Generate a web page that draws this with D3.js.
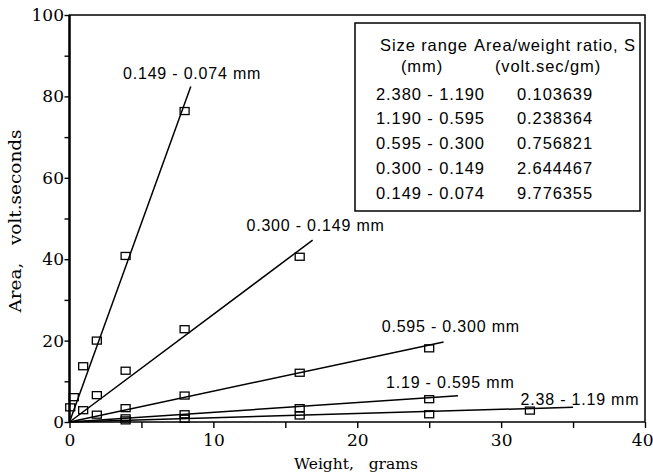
<!DOCTYPE html>
<html>
<head>
<meta charset="utf-8">
<script src="https://cdn.jsdelivr.net/npm/d3@7"></script>
<style>
  body { margin: 0; background: #fff; }
  svg { display: block; }
</style>
</head>
<body>
<svg id="chart" width="653" height="475"></svg>
<script>
// weights (g) and areas (volt.sec), one pair per size range
const w074 = [0.05, 0.3, 0.95, 1.9, 3.9, 8];
const a074 = [3.6, 6.1, 13.7, 20, 40.8, 76.4];
const w149 = [0.95, 1.9, 3.9, 8, 16];
const a149 = [2.9, 6.6, 12.6, 22.8, 40.6];
const w300 = [1.9, 3.9, 8, 16, 25];
const a300 = [1.8, 3.4, 6.5, 12.1, 18.1];
const w595 = [3.9, 8, 16, 25];
const a595 = [0.9, 1.9, 3.4, 5.6];
const w119 = [3.9, 8, 16, 25, 32];
const a119 = [0.4, 0.8, 1.6, 1.9, 2.8];

const lineLabels = ['0.149 - 0.074 mm', '0.300 - 0.149 mm', '0.595 - 0.300 mm', '1.19 - 0.595 mm', '2.38 - 1.19 mm'];
const fitEnds = [8.43, 16.9, 26, 27, 35];   // weight where each fitted line stops

// table in the corner
const tableSizes = ['2.380 - 1.190', '1.190 - 0.595', '0.595 - 0.300', '0.300 - 0.149', '0.149 - 0.074'];
const tableRatios = ['0.103639', '0.238364', '0.756821', '2.644467', '9.776355'];

const xTicks = [0, 5, 10, 15, 20, 25, 30, 35, 40];
const yTicks = [0, 10, 20, 30, 40, 50, 60, 70, 80, 90, 100];

// label anchors in data units (left end, vertical middle)
const labelAt = [[3.72, 85.7], [12.3, 48.4], [21.7, 23.6], [22.0, 9.7], [31.35, 5.6]];

let weights = [w074, w149, w300, w595, w119];
let areas = [a074, a149, a300, a595, a119];
let slopes = tableRatios.map(Number).reverse();

let series = lineLabels.map((name, i) => ({
  name: name,
  s: slopes[i],
  end: fitEnds[i],
  pts: weights[i].map((w, j) => [w, areas[i][j]])
}));

let serif = "'DejaVu Serif', serif";
let sans = "'Liberation Sans', Arial, sans-serif";

let svg = d3.select('#chart');
svg.append('rect').attr('width', 653).attr('height', 475).attr('fill', '#fff');

let x = d3.scaleLinear().domain([0, 40]).range([69.5, 645]);
let y = d3.scaleLinear().domain([0, 100]).range([422, 15]);

// axes - ticks point outward, labels only every 10 / 20
let xAxis = d3.axisBottom(x).tickValues(xTicks).tickSize(6).tickPadding(6)
  .tickFormat(d => d % 10 == 0 ? d : '');
let yAxis = d3.axisLeft(y).tickValues(yTicks).tickSize(5).tickPadding(0.5)
  .tickFormat(d => d % 20 == 0 ? d : '');

let gx = svg.append('g')
  .attr('transform', 'translate(0,' + y(0) + ')')
  .call(xAxis)
  .attr('font-family', serif).attr('font-size', 17);
gx.select('.domain').remove();
gx.selectAll('line').attr('stroke-width', 1.4);
// last label sits at the right edge of the page, nudge it in
gx.selectAll('text').filter(d => d == 40).attr('text-anchor', 'end').attr('x', 8);

let gy = svg.append('g')
  .attr('transform', 'translate(' + x(0) + ',0)')
  .call(yAxis)
  .attr('font-family', serif).attr('font-size', 17);
gy.select('.domain').remove();
gy.selectAll('line').attr('stroke-width', 1.4);

// frame
svg.append('rect')
  .attr('x', x(0)).attr('y', y(100))
  .attr('width', x(40) - x(0)).attr('height', y(0) - y(100))
  .attr('fill', 'none').attr('stroke', '#000').attr('stroke-width', 1.5);
svg.append('line')
  .attr('x1', x(0)).attr('x2', x(0)).attr('y1', y(0)).attr('y2', y(100))
  .attr('stroke', '#000').attr('stroke-width', 2.4);

// fitted lines through the origin, area = S * weight
svg.selectAll('.fit')
  .data(series)
  .enter()
  .append('line')
  .attr('class', 'fit')
  .attr('x1', x(0)).attr('y1', y(0))
  .attr('x2', d => x(d.end))
  .attr('y2', d => y(d.s * d.end))
  .attr('stroke', '#000')
  .attr('stroke-width', 1.5);

// square markers
let groups = svg.selectAll('.series')
  .data(series)
  .enter()
  .append('g')
  .attr('class', 'series');
groups.selectAll('rect')
  .data(d => d.pts)
  .enter()
  .append('rect')
  .attr('x', d => x(d[0]) - 4.5)
  .attr('y', d => y(d[1]) - 3.5)
  .attr('width', 9)
  .attr('height', 7)
  .attr('fill', 'none')
  .attr('stroke', '#000')
  .attr('stroke-width', 1.3);

// line labels
svg.selectAll('.lbl')
  .data(series)
  .enter()
  .append('text')
  .attr('class', 'lbl')
  .attr('x', (d, i) => x(labelAt[i][0]))
  .attr('y', (d, i) => y(labelAt[i][1]))
  .attr('dy', '0.35em')
  .attr('font-family', sans)
  .attr('font-size', 16)
  .attr('letter-spacing', 0.8)
  .text(d => d.name);

// axis titles
svg.append('text')
  .attr('x', 356).attr('y', 469)
  .attr('text-anchor', 'middle')
  .attr('font-family', serif).attr('font-size', 15.5)
  .style('white-space', 'pre')
  .text('Weight,   grams');
svg.append('text')
  .attr('transform', 'translate(21,221) rotate(-90)')
  .attr('text-anchor', 'middle')
  .attr('font-family', serif).attr('font-size', 16)
  .attr('textLength', 183).attr('lengthAdjust', 'spacingAndGlyphs')
  .style('white-space', 'pre')
  .text('Area,   volt.seconds');

// table box
let tb = svg.append('g').attr('font-family', sans).attr('font-size', 16.5).attr('letter-spacing', 0.9);
tb.append('rect')
  .attr('x', 355).attr('y', 23).attr('width', 285).attr('height', 188)
  .attr('fill', '#fff').attr('stroke', '#000').attr('stroke-width', 1.5);
tb.append('text').attr('x', 424).attr('y', 45).attr('dy', '0.35em').attr('text-anchor', 'middle').text('Size range');
tb.append('text').attr('x', 422).attr('y', 66).attr('dy', '0.35em').attr('text-anchor', 'middle').text('(mm)');
tb.append('text').attr('x', 555).attr('y', 45).attr('dy', '0.35em').attr('text-anchor', 'middle').text('Area/weight ratio, S');
tb.append('text').attr('x', 548).attr('y', 66).attr('dy', '0.35em').attr('text-anchor', 'middle').text('(volt.sec/gm)');
tb.selectAll('.sz')
  .data(tableSizes)
  .enter()
  .append('text')
  .attr('class', 'sz')
  .attr('x', 376)
  .attr('y', (d, i) => 94 + i * 24.7)
  .attr('dy', '0.35em')
  .text(d => d);
tb.selectAll('.rt')
  .data(tableRatios)
  .enter()
  .append('text')
  .attr('class', 'rt')
  .attr('x', 517)
  .attr('y', (d, i) => 94 + i * 24.7)
  .attr('dy', '0.35em')
  .text(d => d);
</script>
</body>
</html>
